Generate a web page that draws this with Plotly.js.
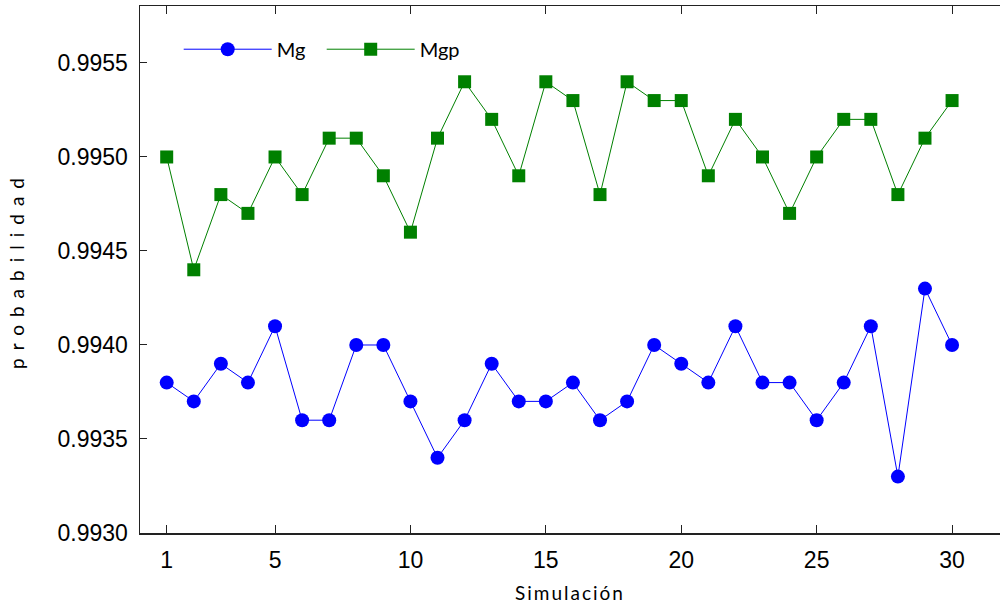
<!DOCTYPE html>
<html>
<head>
<meta charset="utf-8">
<script src="https://cdn.plot.ly/plotly-3.0.1.min.js"></script>
<style>
  html, body { margin: 0; padding: 0; background: #fff; }
  #chart { width: 1000px; height: 609px; }
</style>
</head>
<body>
<div id="chart"></div>
<script>
const simulacion = [1,2,3,4,5,6,7,8,9,10,11,12,13,14,15,16,17,18,19,20,21,22,23,24,25,26,27,28,29,30];
const mg  = [0.9938,0.9937,0.9939,0.9938,0.9941,0.9936,0.9936,0.9940,0.9940,0.9937,
             0.9934,0.9936,0.9939,0.9937,0.9937,0.9938,0.9936,0.9937,0.9940,0.9939,
             0.9938,0.9941,0.9938,0.9938,0.9936,0.9938,0.9941,0.9933,0.9943,0.9940];
const mgp = [0.9950,0.9944,0.9948,0.9947,0.9950,0.9948,0.9951,0.9951,0.9949,0.9946,
             0.9951,0.9954,0.9952,0.9949,0.9954,0.9953,0.9948,0.9954,0.9953,0.9953,
             0.9949,0.9952,0.9950,0.9947,0.9950,0.9952,0.9952,0.9948,0.9951,0.9953];
const xTicks = [1,5,10,15,20,25,30];
const yTicks = [0.9930,0.9935,0.9940,0.9945,0.9950,0.9955];
const seriesNames = ['Mg','Mgp'];

const yRange = [0.9930, 0.995803];
const traces = [
  { x: simulacion, y: mg, name: seriesNames[0], type: 'scatter', mode: 'lines+markers',
    line: { color: '#0000ff', width: 1 },
    marker: { symbol: 'circle', size: 14, color: '#0000ff' } },
  { x: simulacion, y: mgp, name: seriesNames[1], type: 'scatter', mode: 'lines+markers',
    line: { color: '#008000', width: 1 },
    marker: { symbol: 'square', size: 13, color: '#008000' } }
];

const layout = {
  width: 1000, height: 609,
  margin: { l: 140, r: 0, t: 6, b: 76 },
  paper_bgcolor: '#fff', plot_bgcolor: '#fff',
  showlegend: true,
  legend: { orientation: 'h', x: 0.045, y: 0.955, xanchor: 'left', yanchor: 'top',
            bgcolor: 'rgba(0,0,0,0)', itemwidth: 88, entrywidth: 40, entrywidthmode: 'pixels',
            font: { family: 'Lato, sans-serif', size: 20, color: '#000' } },
  xaxis: {
    range: [0.014, 31.77], tickvals: xTicks, ticktext: xTicks.map(String),
    ticks: 'inside', ticklen: 8, tickcolor: '#222', tickwidth: 1,
    showline: true, linecolor: '#222', linewidth: 1.5, mirror: 'ticks',
    showgrid: false, zeroline: false, ticklabelstandoff: 6,
    tickfont: { family: 'Liberation Sans, Arial, sans-serif', size: 23, color: '#000' },
    title: { text: 'Simulación', standoff: 14,
             font: { family: 'Lato, sans-serif', size: 19, color: '#000' } }
  },
  yaxis: {
    range: yRange, tickvals: yTicks, tickformat: '.4f',
    ticks: 'inside', ticklen: 7, tickcolor: '#222', tickwidth: 1,
    showline: true, linecolor: '#222', linewidth: 1.5, mirror: false,
    showgrid: false, zeroline: false, ticklabelstandoff: 6,
    tickfont: { family: 'Liberation Sans, Arial, sans-serif', size: 23, color: '#000' },
    title: { text: 'probabilidad', standoff: 28,
             font: { family: 'Lato, sans-serif', size: 19, color: '#000' } }
  },
  yaxis2: {
    overlaying: 'y', side: 'right', range: yRange, tickvals: yTicks,
    ticks: 'inside', ticklen: 3, tickcolor: '#222', showticklabels: false,
    showline: false, showgrid: false, zeroline: false
  }
};

Plotly.newPlot('chart', traces, layout, { displayModeBar: false, staticPlot: true }).then(function () {
  const yt = document.querySelector('.ytitle');
  if (yt) yt.setAttribute('letter-spacing', '8px');
  const xt = document.querySelector('.xtitle');
  if (xt) xt.setAttribute('letter-spacing', '2px');
});
</script>
</body>
</html>
